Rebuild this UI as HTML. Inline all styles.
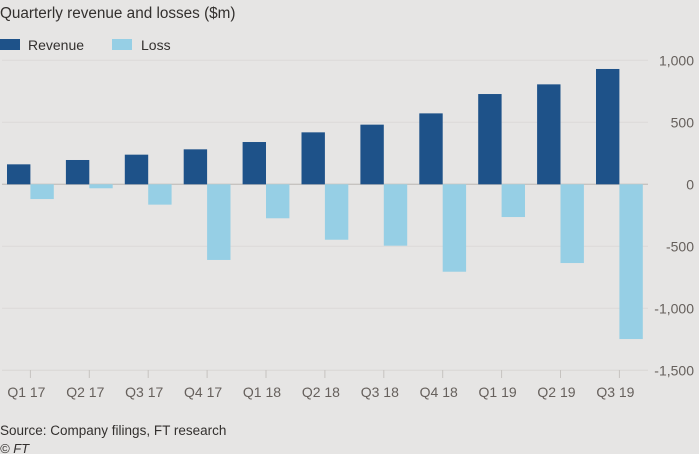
<!DOCTYPE html>
<html><head><meta charset="utf-8">
<style>
body{margin:0;background:#e6e5e4;font-family:"Liberation Sans",sans-serif;}
#wrap{position:relative;width:699px;height:454px;overflow:hidden;background:#e6e5e4;}
.t{position:absolute;white-space:nowrap;}
</style></head><body>
<div id="wrap">
<div class="t" style="left:0;top:5px;font-size:15.3px;color:#33302e;">Quarterly revenue and losses ($m)</div>
<div style="position:absolute;left:0;top:39px;width:20px;height:11px;background:#1e5289"></div>
<div class="t" style="left:28px;top:37px;font-size:14px;color:#33302e;">Revenue</div>
<div style="position:absolute;left:112px;top:39px;width:20px;height:11px;background:#96cfe5"></div>
<div class="t" style="left:141px;top:37px;font-size:14px;color:#33302e;">Loss</div>
<svg id="chart" width="699" height="454" style="position:absolute;left:0;top:0"></svg>
<div class="t" style="left:0;top:423px;font-size:13.5px;color:#33302e;">Source: Company filings, FT research</div>
<div class="t" style="left:0;top:441px;font-size:13px;font-style:italic;color:#33302e;">© FT</div>
</div>
<script>
const categories=["Q1 17","Q2 17","Q3 17","Q4 17","Q1 18","Q2 18","Q3 18","Q4 18","Q1 19","Q2 19","Q3 19"];
const revenue=[161,196,239,282,341,419,481,572,728,806,930];
const loss=[-119,-32,-164,-610,-274,-447,-495,-705,-264,-635,-1248];
const yTicks=[1000,500,0,-500,-1000,-1500];
const yTickLabels=["1,000","500","0","-500","-1,000","-1,500"];
const NS="http://www.w3.org/2000/svg";
const svg=document.getElementById('chart');
const y=v=>184.3-v*0.124;
const x0=7,pitch=58.9,bw=23.4;
const gx=i=>x0+i*pitch;
function mk(t,a){const e=document.createElementNS(NS,t);for(const k in a)e.setAttribute(k,a[k]);svg.appendChild(e);return e;}
yTicks.forEach((v,i)=>{
  const g=mk('line',{x1:2,x2:648,y1:y(v),y2:y(v),stroke:v===0?'#c6c3c0':'#dcdad8','stroke-width':v===0||v===-1500?1.3:1});
  
  
  const t=mk('text',{x:694,y:y(v)+5,'text-anchor':'end','font-size':14,fill:'#66605c','font-family':'Liberation Sans, sans-serif'});
  t.textContent=yTickLabels[i];
  
  
});
categories.forEach((c,i)=>{
  const r=mk('rect',{x:gx(i),y:y(revenue[i]),width:bw,height:y(0)-y(revenue[i]),fill:'#1e5289'});
  
  
  const l=mk('rect',{x:gx(i)+bw,y:y(0),width:bw,height:y(loss[i])-y(0),fill:'#96cfe5'});
  
  
  const cx=gx(i)+bw;
  const tk=mk('line',{x1:cx,x2:cx,y1:370,y2:378,stroke:'#c6c3c0','stroke-width':1});
  
  
  const t=mk('text',{x:cx-4,y:397,'text-anchor':'middle','font-size':14,fill:'#66605c','font-family':'Liberation Sans, sans-serif'});
  t.textContent=c;
  
  
});
</script>
</body></html>
